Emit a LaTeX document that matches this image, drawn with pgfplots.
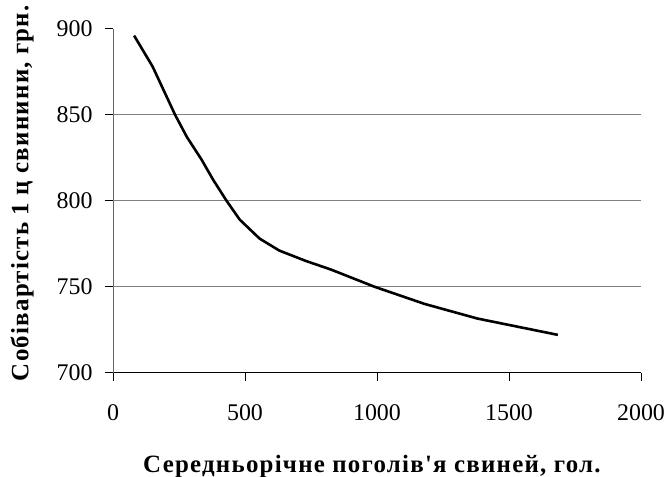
\documentclass[border=0pt]{standalone}
\usepackage{fontspec}
\setmainfont{Liberation Serif}[Ligatures=TeXOff]
\usepackage{pgfplots}
\pgfplotsset{compat=1.18}
\begin{document}
\begin{tikzpicture}
\begin{axis}[
  scale only axis,
  width=528bp, height=344bp,
  xmin=0, xmax=2000, ymin=700, ymax=900,
  xtick={0,500,1000,1500,2000},
  ytick={700,750,800,850,900},
  axis x line*=bottom, axis y line*=left,
  x axis line style={black, line width=0.8bp, -},
  y axis line style={gray!80!black, line width=0.8bp, -},
  tick align=outside,
  major tick length=8bp,
  tick style={black, line width=0.8bp},
  extra y ticks={750,800,850},
  extra y tick labels={},
  extra y tick style={ymajorgrids=true, major tick length=0pt},
  grid style={gray, line width=0.8bp},
  /pgf/number format/assume math mode=true,
  /pgf/number format/1000 sep={},
  tick label style={font=\fontsize{24}{27}\selectfont},
  xticklabel style={yshift=-20bp},
  yticklabel style={xshift=-9bp},
  xlabel={Середньорічне поголів'я свиней, гол.},
  ylabel={Собівартість 1 ц свинини, грн.},
  xlabel style={font=\bfseries\fontsize{25}{28}\selectfont\addfontfeature{LetterSpace=5}, at={(axis description cs:0.4905,-0.2907)}, anchor=base},
  ylabel style={font=\bfseries\fontsize{25}{28}\selectfont\addfontfeature{LetterSpace=5}, at={(axis description cs:-0.1604,0.522)}, anchor=base, rotate=0},
]
\addplot[black, line width=2.6bp] coordinates {
(80,896) (150,878) (235,850) (280,837) (335,824) (380,812) (430,800)
(480,789) (555,778) (630,771) (730,765) (825,760) (990,750)
(1180,740) (1380,731.5) (1685,722)
};
\end{axis}
\pgfresetboundingbox
\path[use as bounding box] ([xshift=-113bp,yshift=-104.3bp]current axis.south west) rectangle ++(668bp,477bp);
\end{tikzpicture}
\end{document}
